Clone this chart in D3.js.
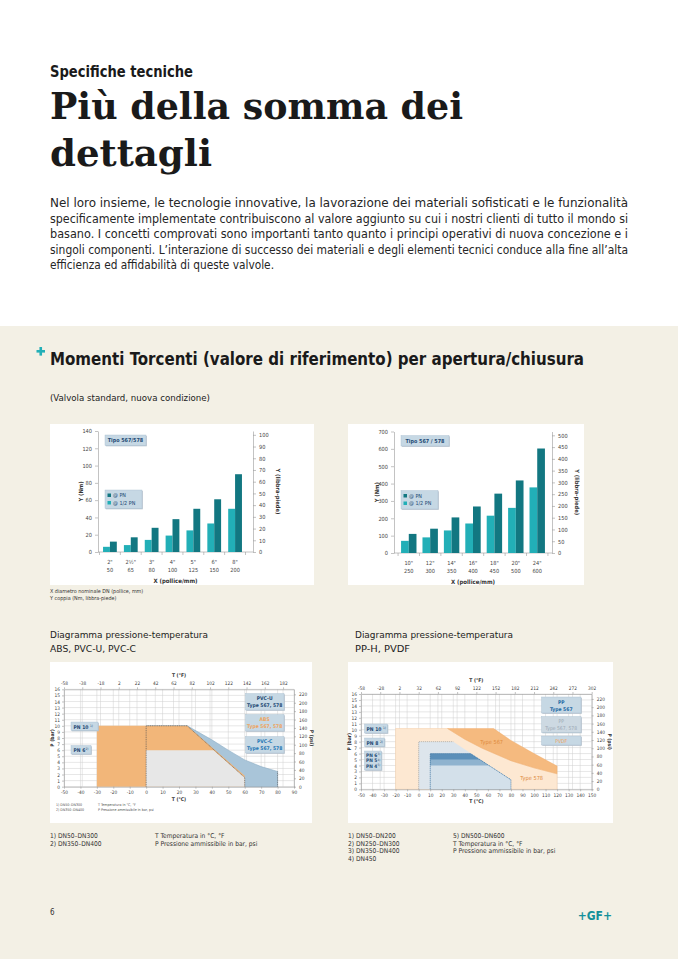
<!DOCTYPE html>
<html><head><meta charset="utf-8">
<script src="https://cdn.jsdelivr.net/npm/d3@7"></script>
<style>body{margin:0;background:#fff}svg{display:block}</style>
</head><body><svg id="c" width="678" height="959"></svg>
<script>
// ---------- DATA ----------
const torqueCats1 = ["2\"|50", "2½\"|65", "3\"|80", "4\"|100", "5\"|125", "6\"|150", "8\"|200"];
const torquePN1 = [12, 17, 28, 38, 50, 61, 90];
const torqueHalf1 = [6, 8, 14, 19, 25, 33, 50];
const nmTicks1 = [0, 20, 40, 60, 80, 100, 120, 140];
const lbTicks1 = [0, 10, 20, 30, 40, 50, 60, 70, 80, 90, 100];

const torqueCats2 = ["10\"|250", "12\"|300", "14\"|350", "16\"|400", "18\"|450", "20\"|500", "24\"|600"];
const torquePN2 = [110, 140, 205, 268, 342, 418, 602];
const torqueHalf2 = [70, 90, 130, 170, 215, 260, 378];
const nmTicks2 = [0, 100, 200, 300, 400, 500, 600, 700];
const lbTicks2 = [0, 50, 100, 150, 200, 250, 300, 350, 400, 450, 500];

// pressure-temperature curves [T °C, P bar]
const absPN10 = [[-30, 10], [25, 10], [60, 1.8]];
const pvcuPN10 = [[0, 10], [25, 10], [60, 1.5]];
const pvcuPN6 = [[0, 6], [41, 6], [60, 1.5]];
const pvccPN10 = [[0, 10], [25, 10], [40, 7.7], [50, 6.0], [60, 4.4], [70, 3.3], [80, 2.5]];
const cTicks1 = [-50, -40, -30, -20, -10, 0, 10, 20, 30, 40, 50, 60, 70, 80, 90];
const fTicks1 = [-58, -38, -18, 2, 22, 42, 62, 82, 102, 122, 142, 162, 182];

const pvdf578 = [[-20, 10.2], [25, 10.2], [40, 8.4], [55, 6.9], [80, 4.8], [100, 3.6], [120, 2.6]];
const pvdf567 = [[65, 10.2], [80, 8.2], [100, 6.0], [120, 3.9]];
const ppPN8 = [[0, 8], [30, 8], [80, 1.6]];
const ppPN6 = [[10, 6], [45, 6], [80, 1.6]];
const ppPN5 = [[10, 5], [53, 5], [80, 1.6]];
const ppPN4 = [[10, 4], [61, 4], [80, 1.6]];
const cTicks2 = [-50, -40, -30, -20, -10, 0, 10, 20, 30, 40, 50, 60, 70, 80, 90, 100, 110, 120, 130, 140, 150];
const fTicks2 = [-58, -28, 2, 32, 62, 92, 122, 152, 182, 212, 242, 272, 302];
const barTicks = d3.range(0, 17);
const psiTicks = [0, 20, 40, 60, 80, 100, 120, 140, 160, 180, 200, 220];

// ---------- STYLE ----------
const FONT = "'DejaVu Sans Condensed','Liberation Sans Narrow','Roboto Condensed','DejaVu Sans',sans-serif";
const SERIF = "'DejaVu Serif','Liberation Serif',serif";
const C = {bg: "#f3f0e5", dark: "#127781", light: "#22afb7", axis: "#9a9a9a", txt: "#333",
  box: "#c6d8e4", boxS: "#a9bfcf", navy: "#1f4a74", orange: "#f2b679", gray: "#e7e7e7",
  blue: "#a9c5d9", peach: "#fde8d2", org2: "#f5ba7f", ppg: "#dde5ec"};

const svg = d3.select("#c");
svg.append("rect").attr("width", 678).attr("height", 959).attr("fill", "#fff");
svg.append("rect").attr("y", 326).attr("width", 678).attr("height", 633).attr("fill", C.bg);

function T(g, x, y, s, o = {}) {
  const t = g.append("text").attr("x", x).attr("y", y).text(s)
    .attr("font-family", o.ff || FONT).attr("font-size", o.fs || 10)
    .attr("fill", o.fill || C.txt).attr("font-weight", o.fw || "normal")
    .attr("text-anchor", o.anchor || "start");
  if (o.len) t.attr("textLength", o.len).attr("lengthAdjust", o.adj || "spacingAndGlyphs");
  if (o.rot) t.attr("transform", `rotate(${o.rot},${x},${y})`);
  return t;
}

// ---------- HEADER ----------
T(svg, 50, 77, "Specifiche tecniche", {fs: 16, fill: "#1a1a1a", len: 143, fw: "bold"});
T(svg, 50, 119, "Più della somma dei", {ff: SERIF, fs: 37, fw: "bold", fill: "#1a1a1a", len: 413});
T(svg, 50, 166, "dettagli", {ff: SERIF, fs: 37, fw: "bold", fill: "#1a1a1a", len: 162});
const para = [
  "Nel loro insieme, le tecnologie innovative, la lavorazione dei materiali sofisticati e le funzionalità",
  "specificamente implementate contribuiscono al valore aggiunto su cui i nostri clienti di tutto il mondo si",
  "basano. I concetti comprovati sono importanti tanto quanto i principi operativi di nuova concezione e i",
  "singoli componenti. L’interazione di successo dei materiali e degli elementi tecnici conduce alla fine all’alta",
  "efficienza ed affidabilità di queste valvole."];
para.forEach((s, i) => T(svg, 50, 207 + i * 15.6, s, {fs: 12, fill: "#262626", len: i < 4 ? 578 : 224}));

// plus marker
svg.append("rect").attr("x", 36.5).attr("y", 350).attr("width", 8.5).attr("height", 2.6).attr("fill", C.light);
svg.append("rect").attr("x", 39.45).attr("y", 347).attr("width", 2.6).attr("height", 8.6).attr("fill", C.light);
T(svg, 50, 365, "Momenti Torcenti (valore di riferimento) per apertura/chiusura", {fs: 17, fw: "bold", fill: "#1a1a1a", len: 534});
T(svg, 50, 401, "(Valvola standard, nuova condizione)", {fs: 9, fill: "#222", len: 160});

// ---------- BAR CHARTS ----------
function styleAxis(a, fs) {
  a.select(".domain").attr("stroke", C.axis).attr("stroke-width", 0.6);
  a.selectAll(".tick line").attr("stroke", C.axis).attr("stroke-width", 0.6);
  a.selectAll(".tick text").attr("font-family", FONT).attr("font-size", fs).attr("fill", "#444");
}
function box(g, x, y, w, h, fill) {
  g.append("rect").attr("x", x + 0.8).attr("y", y + 0.8).attr("width", w).attr("height", h).attr("fill", "#b7c3cc");
  g.append("rect").attr("x", x).attr("y", y).attr("width", w).attr("height", h).attr("fill", fill || C.box).attr("stroke", C.boxS).attr("stroke-width", 0.4);
}

function barChart(o) {
  const g = svg.append("g");
  g.append("rect").attr("x", o.panel[0]).attr("y", o.panel[1]).attr("width", o.panel[2]).attr("height", o.panel[3]).attr("fill", "#fff");
  const y = d3.scaleLinear().domain([0, o.nm[o.nm.length - 1]]).range([o.yB, o.yT]);
  const yR = d3.scaleLinear().domain([0, o.nm[o.nm.length - 1] / 1.35582]).range([o.yB, o.yT]);
  const x = d3.scaleBand().domain(o.cats).range([o.c0, o.c1]).paddingInner(o.pi).paddingOuter(o.po);
  const bw = x.bandwidth() / 2;
  styleAxis(g.append("g").attr("transform", `translate(${o.x0},0)`).call(d3.axisLeft(y).tickValues(o.nm).tickSize(3).tickPadding(3).tickSizeOuter(0)), 5.6);
  styleAxis(g.append("g").attr("transform", `translate(${o.x1},0)`).call(d3.axisRight(yR).tickValues(o.lb).tickSize(3).tickPadding(3).tickSizeOuter(0)), 5.6);
  g.append("line").attr("x1", o.x0).attr("x2", o.x1).attr("y1", o.yB).attr("y2", o.yB).attr("stroke", C.axis).attr("stroke-width", 0.6);
  const bounds = o.cats.map(c => x(c) - x.step() * x.paddingInner() / 2).concat([x(o.cats[o.cats.length - 1]) + x.bandwidth() + x.step() * x.paddingInner() / 2]);
  g.selectAll(".bt").data(bounds).join("line").attr("x1", d => d).attr("x2", d => d)
    .attr("y1", o.yB).attr("y2", o.yB + 3).attr("stroke", C.axis).attr("stroke-width", 0.6);
  g.selectAll(".bh").data(o.half).join("rect").attr("x", (d, i) => x(o.cats[i])).attr("width", bw)
    .attr("y", d => y(d)).attr("height", d => o.yB - y(d)).attr("fill", C.light);
  g.selectAll(".bp").data(o.pn).join("rect").attr("x", (d, i) => x(o.cats[i]) + bw).attr("width", bw)
    .attr("y", d => y(d)).attr("height", d => o.yB - y(d)).attr("fill", C.dark);
  o.cats.forEach(c => {
    const [a, b] = c.split("|");
    const cx = x(c) + x.bandwidth() / 2;
    T(g, cx, o.yB + 12, a, {fs: 5.6, anchor: "middle", fill: "#444"});
    T(g, cx, o.yB + 20, b, {fs: 5.6, anchor: "middle", fill: "#444"});
  });
  T(g, (o.x0 + o.x1) / 2, o.yB + 31, "X (pollice/mm)", {fs: 6, fw: "bold", anchor: "middle", fill: "#333"});
  T(g, o.x0 - 15, (o.yT + o.yB) / 2, "Y (Nm)", {fs: 5.8, fw: "bold", anchor: "middle", rot: -90, fill: "#333"});
  T(g, o.x1 + 23, (o.yT + o.yB) / 2, "Y (libbra-piede)", {fs: 5.8, fw: "bold", anchor: "middle", rot: 90, fill: "#333"});
  box(g, o.x0 + 7, o.yT + 4, o.tw, 10.5);
  T(g, o.x0 + 7 + o.tw / 2, o.yT + 11.3, o.title, {fs: 5.4, anchor: "middle", fill: C.navy, fw: "bold"});
  const ly = o.yT + 59;
  box(g, o.x0 + 7, ly, 37, 18.5);
  g.append("rect").attr("x", o.x0 + 9.5).attr("y", ly + 3.5).attr("width", 3.5).attr("height", 3.5).attr("fill", C.dark);
  g.append("rect").attr("x", o.x0 + 9.5).attr("y", ly + 11).attr("width", 3.5).attr("height", 3.5).attr("fill", C.light);
  T(g, o.x0 + 15, ly + 7.2, "@ PN", {fs: 5.4, fill: C.navy});
  T(g, o.x0 + 15, ly + 14.7, "@ 1/2 PN", {fs: 5.4, fill: C.navy});
}

barChart({panel: [50, 424, 264, 161], x0: 98, x1: 253, yB: 552, yT: 431, c0: 102, c1: 243, pi: 0.34, po: 0.05,
  cats: torqueCats1, pn: torquePN1, half: torqueHalf1, nm: nmTicks1, lb: lbTicks1, title: "Tipo 567/578", tw: 41});
barChart({panel: [348, 424, 236, 161], x0: 394, x1: 552, yB: 553, yT: 431.5, c0: 400, c1: 546, pi: 0.28, po: 0.05,
  cats: torqueCats2, pn: torquePN2, half: torqueHalf2, nm: nmTicks2, lb: lbTicks2, title: "Tipo 567 / 578", tw: 48});

T(svg, 50, 593, "X diametro nominale DN (pollice, mm)", {fs: 5.4, fill: "#333"});
T(svg, 50, 600, "Y coppia (Nm, libbra-piede)", {fs: 5.4, fill: "#333"});

// ---------- PRESSURE-TEMPERATURE ----------
function pChart(o) {
  const g = svg.append("g");
  g.append("rect").attr("x", o.panel[0]).attr("y", o.panel[1]).attr("width", o.panel[2]).attr("height", o.panel[3]).attr("fill", "#fff");
  const x = d3.scaleLinear().domain([o.c[0], o.c[o.c.length - 1]]).range(o.xr);
  const xF = d3.scaleLinear().domain([o.c[0] * 1.8 + 32, o.c[o.c.length - 1] * 1.8 + 32]).range(o.xr);
  const y = d3.scaleLinear().domain([0, 16]).range(o.yr);
  const yR = d3.scaleLinear().domain([0, 16 * 14.5038]).range(o.yr);
  const gx = Array.from(new Set(o.c.concat(o.f.map(f => (f - 32) / 1.8)).map(v => +v.toFixed(2))));
  const grid = g.append("g").attr("stroke", "#cfcfcf").attr("stroke-width", 0.5);
  gx.forEach(v => grid.append("line").attr("x1", x(v)).attr("x2", x(v)).attr("y1", y(0)).attr("y2", y(16)));
  barTicks.forEach(v => grid.append("line").attr("x1", x.range()[0]).attr("x2", x.range()[1]).attr("y1", y(v)).attr("y2", y(v)));
  const layer = g.append("g");
  const ax = g.append("g");
  styleAxis(ax.append("g").attr("transform", `translate(${o.xr[0]},0)`).call(d3.axisLeft(y).tickValues(barTicks).tickSize(2).tickPadding(2).tickSizeOuter(0)), 4.8);
  styleAxis(ax.append("g").attr("transform", `translate(${o.xr[1]},0)`).call(d3.axisRight(yR).tickValues(psiTicks).tickSize(2).tickPadding(3).tickSizeOuter(0)), 4.8);
  styleAxis(ax.append("g").attr("transform", `translate(0,${o.yr[0]})`).call(d3.axisBottom(x).tickValues(o.c).tickFormat(d => d).tickSize(2).tickPadding(2).tickSizeOuter(0)), 4.8);
  styleAxis(ax.append("g").attr("transform", `translate(0,${o.yr[1]})`).call(d3.axisTop(xF).tickValues(o.f).tickFormat(d => d).tickSize(2).tickPadding(2).tickSizeOuter(0)), 4.8);
  const mid = (o.xr[0] + o.xr[1]) / 2;
  T(g, mid, o.yr[1] - 12, "T (°F)", {fs: 5, fw: "bold", anchor: "middle"});
  T(g, mid, o.yr[0] + 14, "T (°C)", {fs: 5, fw: "bold", anchor: "middle"});
  T(g, o.xr[0] - 10, (o.yr[0] + o.yr[1]) / 2, "P (bar)", {fs: 5, fw: "bold", anchor: "middle", rot: -90});
  T(g, o.xr[1] + 16, (o.yr[0] + o.yr[1]) / 2, "P (psi)", {fs: 5, fw: "bold", anchor: "middle", rot: 90});
  const P = pts => pts.map(p => [x(p[0]), y(p[1])]);
  const area = pts => d3.line()(P([[pts[0][0], 0]].concat(pts, [[pts[pts.length - 1][0], 0]]))) + "Z";
  const poly = pts => d3.line()(P(pts)) + "Z";
  const line = pts => d3.line()(P(pts));
  return {g, layer, x, y, area, poly, line};
}

// Chart 3: ABS, PVC-U, PVC-C
const p1 = pChart({panel: [50, 662, 262, 161], xr: [64, 294], yr: [786.7, 689.3], c: cTicks1, f: fTicks1});
p1.layer.append("path").attr("d", p1.area(pvccPN10)).attr("fill", C.blue).attr("stroke", "#8eaec6").attr("stroke-width", 0.6);
p1.layer.append("path").attr("d", p1.area(absPN10)).attr("fill", C.orange);
p1.layer.append("path").attr("d", p1.area(pvcuPN6)).attr("fill", C.gray);
p1.layer.append("path").attr("d", p1.line([[0, 0]].concat(pvcuPN10, [[60, 0]]))).attr("fill", "none")
  .attr("stroke", "#555").attr("stroke-width", 0.7).attr("stroke-dasharray", "1,0.8");
p1.layer.append("path").attr("d", p1.line([[80, 0], pvccPN10[pvccPN10.length - 1]])).attr("fill", "none")
  .attr("stroke", "#555").attr("stroke-width", 0.6).attr("stroke-dasharray", "1,0.8");
{
  const g = p1.g;
  box(g, 245.5, 693.5, 38.5, 16.5);
  T(g, 264.7, 700, "PVC-U", {fs: 5, fw: "bold", anchor: "middle", fill: C.navy});
  T(g, 264.7, 707, "Type 567, 578", {fs: 5, fw: "bold", anchor: "middle", fill: C.navy});
  box(g, 245.5, 714.5, 38.5, 16.5);
  T(g, 264.7, 721, "ABS", {fs: 5, fw: "bold", anchor: "middle", fill: "#eea45e"});
  T(g, 264.7, 728, "Type 567, 578", {fs: 5, fw: "bold", anchor: "middle", fill: "#eea45e"});
  box(g, 245.5, 736.5, 38.5, 16.5);
  T(g, 264.7, 743, "PVC-C", {fs: 5, fw: "bold", anchor: "middle", fill: "#1f77b4"});
  T(g, 264.7, 750, "Type 567, 578", {fs: 5, fw: "bold", anchor: "middle", fill: "#1f77b4"});
  box(g, 71, 722, 27, 8.5);
  T(g, 73.5, 728.5, "PN 10", {fs: 5, fill: C.navy, fw: "bold"});
  T(g, 90, 726.5, "1)", {fs: 3.2, fill: C.navy});
  box(g, 71, 745.5, 20, 8.5);
  T(g, 73.5, 752, "PN 6", {fs: 5, fill: C.navy, fw: "bold"});
  T(g, 85.5, 750, "2)", {fs: 3.2, fill: C.navy});
  T(g, 56, 806, "1)   DN50–DN300", {fs: 3.6, fill: "#555"});
  T(g, 56, 811, "2)   DN350–DN400", {fs: 3.6, fill: "#555"});
  T(g, 98, 806, "T  Temperatura in °C, °F", {fs: 3.6, fill: "#555"});
  T(g, 98, 811, "P  Pressione ammissibile in bar, psi", {fs: 3.6, fill: "#555"});
}

// Chart 4: PP-H, PVDF
const p2 = pChart({panel: [348, 662, 265, 161], xr: [361, 591.7], yr: [789.3, 694], c: cTicks2, f: fTicks2});
p2.layer.append("path").attr("d", p2.area(pvdf578)).attr("fill", C.peach).attr("stroke", "#f6cfa6").attr("stroke-width", 0.5);
const band = [[25, 10.2]].concat(pvdf567, pvdf578.filter(p => p[0] >= 25).reverse());
p2.layer.append("path").attr("d", p2.poly(band)).attr("fill", C.org2).attr("stroke", "#f0aa66").attr("stroke-width", 0.4);
p2.layer.append("path").attr("d", p2.area(ppPN8)).attr("fill", C.ppg);
p2.layer.append("path").attr("d", p2.area(ppPN6)).attr("fill", "#5b8fb9");
p2.layer.append("path").attr("d", p2.area(ppPN5)).attr("fill", "#8fb3cf");
p2.layer.append("path").attr("d", p2.area(ppPN4)).attr("fill", "#d3e0ea");
p2.layer.append("path").attr("d", p2.line([[0, 0]].concat(ppPN8.slice(0, 2)))).attr("fill", "none")
  .attr("stroke", "#999").attr("stroke-width", 0.6).attr("stroke-dasharray", "1.2,0.8");
p2.layer.append("path").attr("d", p2.line([[10, 0]].concat(ppPN6, [[80, 0]]))).attr("fill", "none")
  .attr("stroke", "#2f6896").attr("stroke-width", 0.6).attr("stroke-dasharray", "1.2,0.8");
{
  const g = p2.g;
  T(g, 491.7, 743.5, "Type 567", {fs: 5.6, anchor: "middle", fill: "#e08a3c"});
  T(g, 531.7, 780, "Type 578", {fs: 5.6, anchor: "middle", fill: "#e08a3c"});
  box(g, 541.5, 697, 39.5, 16);
  T(g, 561.2, 703.5, "PP", {fs: 5, fw: "bold", anchor: "middle", fill: "#1f6aa5"});
  T(g, 561.2, 710.5, "Type 567", {fs: 5, fw: "bold", anchor: "middle", fill: "#1f6aa5"});
  box(g, 541.5, 716.5, 39.5, 16, "#cdd9e2");
  T(g, 561.2, 723, "PP", {fs: 5, anchor: "middle", fill: "#9aa7b2"});
  T(g, 561.2, 730, "Type 567, 578", {fs: 5, anchor: "middle", fill: "#9aa7b2"});
  box(g, 541.5, 736, 39.5, 9);
  T(g, 561.2, 742.5, "PVDF", {fs: 5, anchor: "middle", fill: "#eea45e"});
  box(g, 364.5, 724, 23, 9);
  T(g, 366.5, 730.5, "PN 10", {fs: 5, fill: C.navy, fw: "bold"});
  T(g, 383, 728.5, "1)", {fs: 3.2, fill: C.navy});
  box(g, 364.5, 738, 20, 8.5);
  T(g, 366.5, 744.5, "PN 8", {fs: 5, fill: C.navy, fw: "bold"});
  T(g, 380, 742.5, "2)", {fs: 3.2, fill: C.navy});
  box(g, 364.5, 751, 17, 19);
  [["PN 6", "3)"], ["PN 5", "4)"], ["PN 4", "5)"]].forEach((d, i) => {
    T(g, 366, 756.5 + i * 5.8, d[0], {fs: 4.8, fill: C.navy, fw: "bold"});
    T(g, 377.5, 754.8 + i * 5.8, d[1], {fs: 3, fill: C.navy});
  });
}

// ---------- Section headings / footnotes ----------
T(svg, 50, 638, "Diagramma pressione-temperatura", {fs: 9.5, fill: "#222", len: 158});
T(svg, 50, 652, "ABS, PVC-U, PVC-C", {fs: 9.5, fill: "#222", len: 86});
T(svg, 355, 638, "Diagramma pressione-temperatura", {fs: 9.5, fill: "#222", len: 158});
T(svg, 355, 652, "PP-H, PVDF", {fs: 9.5, fill: "#222", len: 55});

const fn1 = ["1) DN50–DN300", "2) DN350–DN400"];
fn1.forEach((s, i) => T(svg, 50, 838 + i * 7.5, s, {fs: 6.6, fill: "#333"}));
["T  Temperatura in °C, °F", "P  Pressione ammissibile in bar, psi"].forEach((s, i) => T(svg, 155, 838 + i * 7.5, s, {fs: 6.6, fill: "#333"}));
const fn2 = ["1) DN50–DN200", "2) DN250–DN300", "3) DN350–DN400", "4) DN450"];
fn2.forEach((s, i) => T(svg, 348, 838 + i * 7.5, s, {fs: 6.6, fill: "#333"}));
["5) DN500–DN600", "T  Temperatura in °C, °F", "P  Pressione ammissibile in bar, psi"].forEach((s, i) => T(svg, 453, 838 + i * 7.5, s, {fs: 6.6, fill: "#333"}));

T(svg, 50, 915, "6", {fs: 8, fill: "#333"});
T(svg, 612, 920, "+GF+", {fs: 12, fw: "bold", fill: "#15909a", anchor: "end"});
</script></body></html>
